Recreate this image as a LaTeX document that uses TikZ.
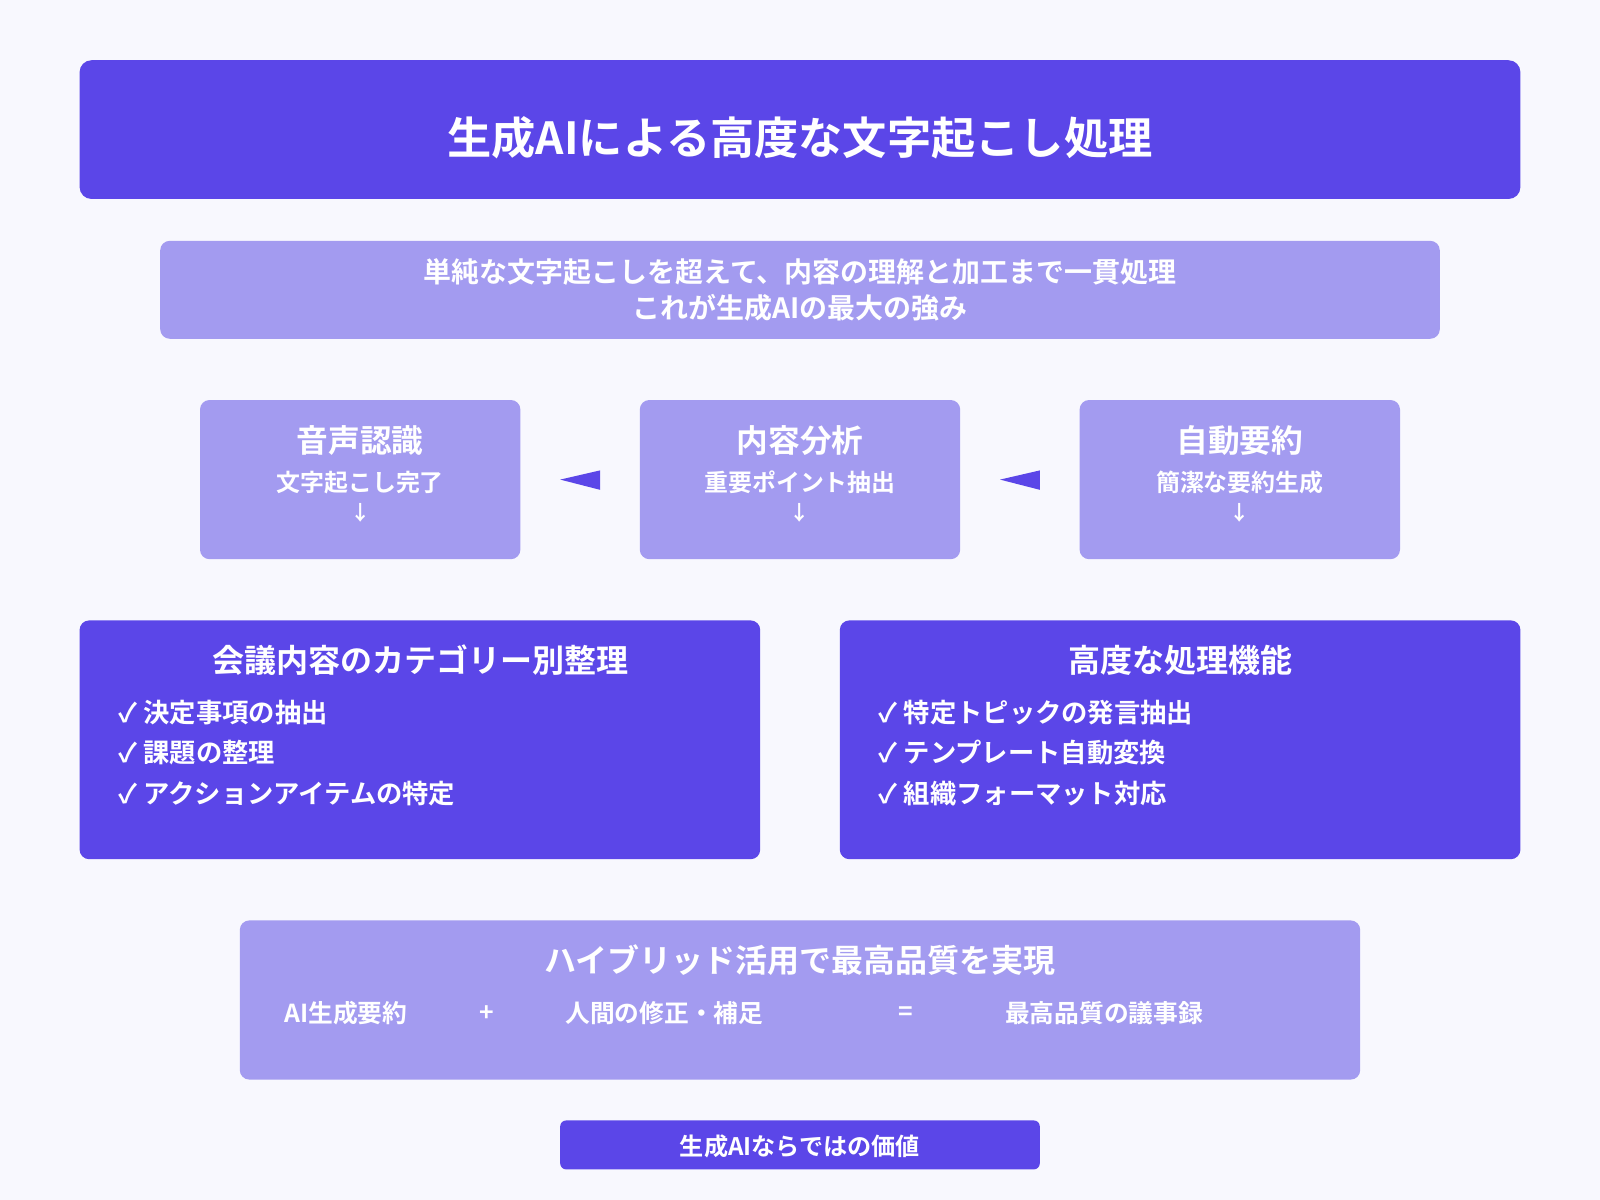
\documentclass[tikz,border=0pt]{standalone}
\usepackage{fontspec}
\setmainfont{Noto Sans CJK JP}[BoldFont={Noto Sans CJK JP Bold}]
\usetikzlibrary{positioning}
\definecolor{dark}{HTML}{5B46E8}
\definecolor{light}{HTML}{A39BF0}
\definecolor{bg}{HTML}{F8F8FE}
\tikzset{
  box/.style={rounded corners=8pt, inner sep=0pt, anchor=north west},
  darkbox/.style={box, fill=dark},
  lightbox/.style={box, fill=light},
  txt/.style={text=white, font=\bfseries, inner sep=0pt},
}
\begin{document}
\begin{tikzpicture}[x=0.03cm,y=-0.03cm]
\useasboundingbox[fill=bg] (0,0) rectangle (1568,1176);
%title
\fill[dark, rounded corners=10pt] (78,59) rectangle (1490,195);
\node[txt, font=\bfseries\fontsize{37}{44}\selectfont] (title) at (784,135) {生成AIによる高度な文字起こし処理};
%subtitle
\fill[light, rounded corners=8pt] (157,236) rectangle (1411,332);
\node[txt, align=center, font=\bfseries\fontsize{23.4}{30}\selectfont] (sub) at (784,284) {単純な文字起こしを超えて、内容の理解と加工まで一貫処理\\これが生成AIの最大の強み};
%steps
\foreach \cx/\nm/\hd/\ln in {353/asr/音声認識/文字起こし完了, 784/ana/内容分析/重要ポイント抽出, 1215/sum/自動要約/簡潔な要約生成}{
  \fill[light, rounded corners=8pt] (\cx-157,392) rectangle (\cx+157,548);
  \node[txt, font=\bfseries\fontsize{26.5}{30}\selectfont] (\nm) at (\cx,432) {\hd};
  \node[txt, font=\bfseries\fontsize{20}{22}\selectfont] (\nm-l) at (\cx,473) {\ln};
  \node[txt, font=\bfseries\fontsize{17}{20}\selectfont] (\nm-a) at (\cx,503) {↓};
}
%arrows
\fill[dark] (549,470) -- (588,461) -- (588,480) -- cycle;
\fill[dark] (980,470) -- (1019,461) -- (1019,480) -- cycle;
%feature boxes
\fill[dark, rounded corners=8pt] (78,608) rectangle (745,842);
\fill[dark, rounded corners=8pt] (823,608) rectangle (1490,842);
\node[txt, font=\bfseries\fontsize{26.8}{30}\selectfont] (cat) at (412,647) {会議内容のカテゴリー別整理};
\node[txt, font=\bfseries\fontsize{26.8}{30}\selectfont] (adv) at (1157,647) {高度な処理機能};
\node[txt, anchor=west, align=left, font=\bfseries\fontsize{22}{33.5}\selectfont] (cat-l) at (116,738) {✓ 決定事項の抽出\\✓ 課題の整理\\✓ アクションアイテムの特定};
\node[txt, anchor=west, align=left, font=\bfseries\fontsize{22}{33.5}\selectfont] (adv-l) at (861,738) {✓ 特定トピックの発言抽出\\✓ テンプレート自動変換\\✓ 組織フォーマット対応};
%hybrid
\fill[light, rounded corners=8pt] (235,902) rectangle (1333,1058);
\node[txt, font=\bfseries\fontsize{26.8}{30}\selectfont] (hyb) at (784,941) {ハイブリッド活用で最高品質を実現};
\foreach \x/\t in {339/AI生成要約, 477/+, 651/人間の修正・補足, 888/=, 1082/最高品質の議事録}
  \node[txt, font=\bfseries\fontsize{20.7}{24}\selectfont] at (\x,993) {\t};
%footer
\fill[dark, rounded corners=5pt] (549,1098) rectangle (1019,1146);
\node[txt, font=\bfseries\fontsize{20.2}{24}\selectfont] (foot) at (784,1123) {生成AIならではの価値};
\end{tikzpicture}
\end{document}
